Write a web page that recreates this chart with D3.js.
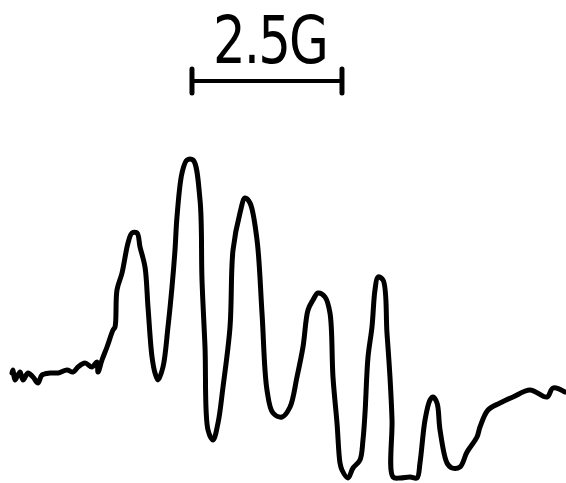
<html>
  <head>
    <script src="https://d3js.org/d3.v7.min.js"></script>
    <style>
      body { margin: 0; background: white; }
    </style>
  </head>
  <body>
    <svg id="epr" width="566" height="483"></svg>
    <script>
      // field position (G) along the sweep
      const field = [
        0.033, 0.05, 0.083, 0.167, 0.217, 0.3, 0.383, 0.467, 0.533, 0.667,
        0.8, 0.95, 1.05, 1.133, 1.25, 1.367, 1.45, 1.467, 1.533, 1.617,
        1.717, 1.75, 1.783, 1.867, 1.967, 2.033, 2.117, 2.167, 2.25, 2.3,
        2.367, 2.417, 2.467, 2.55, 2.633, 2.7, 2.75, 2.783, 2.867, 2.95,
        3.05, 3.167, 3.2, 3.25, 3.3, 3.383, 3.467, 3.55, 3.667, 3.717,
        3.833, 3.917, 4.0, 4.117, 4.2, 4.283, 4.383, 4.533, 4.667, 4.783,
        4.883, 4.967, 5.05, 5.133, 5.25, 5.333, 5.383, 5.45, 5.5, 5.533,
        5.633, 5.717, 5.833, 5.883, 5.917, 5.967, 6.033, 6.083, 6.133, 6.217,
        6.283, 6.333, 6.367, 6.383, 6.5, 6.667, 6.783, 6.833, 6.917, 7.0,
        7.05, 7.117, 7.167, 7.283, 7.367, 7.5, 7.617, 7.783, 7.833, 7.967,
        8.167, 8.383, 8.667, 8.95, 9.05, 9.25
      ];
      // derivative signal (arb. units)
      const signal = [
        2.7, 3.0, 2.0, 2.8, 2.0, 2.7, 2.3, 1.7, 2.5, 2.7,
        2.7, 3.0, 2.8, 3.3, 3.7, 3.3, 3.8, 2.8, 4.0, 5.3,
        7.0, 7.3, 11.0, 12.7, 15.7, 16.7, 16.7, 15.3, 13.3, 9.3,
        4.3, 2.7, 2.0, 3.3, 7.3, 11.3, 15.0, 18.3, 22.7, 24.0,
        24.0, 20.0, 12.0, 5.3, -3.0, -4.0, -2.3, 1.3, 7.3, 15.0,
        18.7, 20.2, 19.7, 16.0, 8.7, 1.0, -1.3, -1.7, -0.7, 2.3,
        5.3, 9.0, 10.0, 10.7, 10.3, 8.7, 2.3, -2.3, -6.3, -7.0,
        -7.8, -6.8, -6.0, -4.0, -1.3, 4.3, 7.3, 11.0, 12.3, 12.0,
        6.7, 2.3, -2.0, -7.7, -7.8, -7.7, -7.8, -6.3, -2.0, 0.0,
        0.3, -0.3, -3.0, -6.3, -6.8, -6.7, -5.2, -3.7, -2.7, -1.0,
        -0.3, 0.3, 1.0, 0.3, 1.2, 0.8
      ];
      const scaleBarStart = 3.033;
      const scaleBarLength = 2.5;
      const scaleBarLabel = "2.5G";

      const svg = d3.select("#epr");
      const x = d3.scaleLinear().domain([0, 9.25]).range([10, 565]);
      const y = d3.scaleLinear().domain([-10, 40]).range([500, 0]);

      const pts = field.map((f, i) => [f, signal[i]]);

      const line = d3
        .line()
        .x((d) => x(d[0]))
        .y((d) => y(d[1]))
        .curve(d3.curveCatmullRom.alpha(0.5));

      svg
        .append("path")
        .datum(pts)
        .attr("d", line)
        .attr("fill", "none")
        .attr("stroke", "black")
        .attr("stroke-width", 5)
        .attr("stroke-linejoin", "round")
        .attr("stroke-linecap", "round");

      // scale bar
      const x0 = x(scaleBarStart);
      const x1 = x(scaleBarStart + scaleBarLength);
      const bar = svg.append("g").attr("stroke", "black").attr("stroke-linecap", "round");
      bar.append("line").attr("x1", x0).attr("x2", x1).attr("y1", 81).attr("y2", 81).attr("stroke-width", 4);
      bar.append("line").attr("x1", x0).attr("x2", x0).attr("y1", 69).attr("y2", 93).attr("stroke-width", 5);
      bar.append("line").attr("x1", x1).attr("x2", x1).attr("y1", 69).attr("y2", 93).attr("stroke-width", 5);

      // label: narrow glyphs, wide spacing
      const sx = 0.78;
      svg
        .append("text")
        .attr("transform", "scale(" + sx + ",1)")
        .attr("x", 213 / sx)
        .attr("y", 63)
        .attr("textLength", 116 / sx)
        .attr("lengthAdjust", "spacing")
        .attr("font-family", "DejaVu Sans")
        .attr("font-size", 66)
        .attr("fill", "black")
        .text(scaleBarLabel);
    </script>
  </body>
</html>
